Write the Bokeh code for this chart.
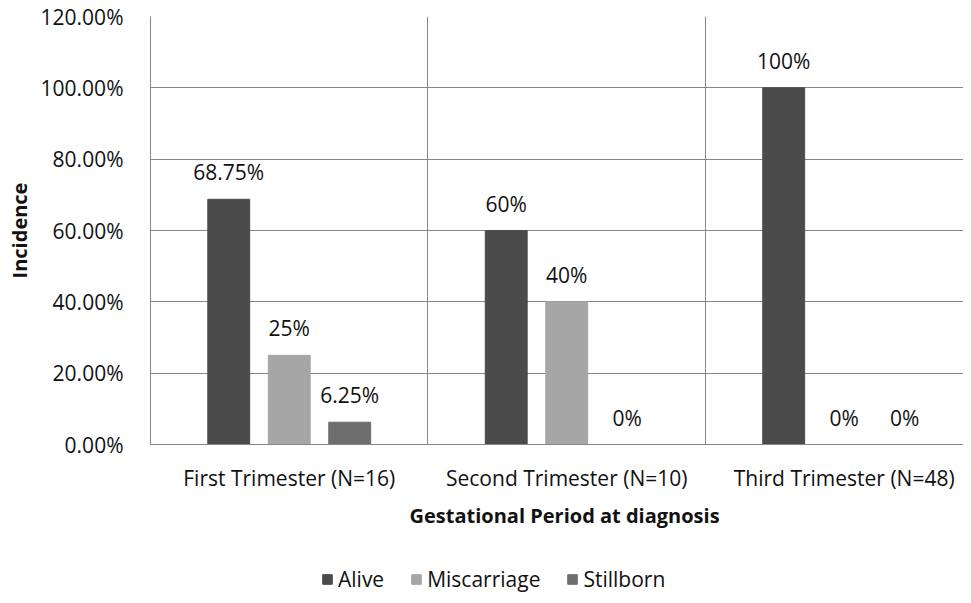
import numpy as np
from bokeh.plotting import figure
from bokeh.layouts import column
from bokeh.models import (Range1d, FixedTicker, PrintfTickFormatter, Legend,
                          LegendItem, Title, ColumnDataSource)
from bokeh.core.properties import value
from bokeh.embed import file_html
from bokeh.resources import INLINE

categories = ["First Trimester (N=16)", "Second Trimester (N=10)", "Third Trimester (N=48)"]
series_names = ["Alive", "Miscarriage", "Stillborn"]
alive = [68.75, 60, 100]
miscarriage = [25, 40, 0]
stillborn = [6.25, 0, 0]
alive_labels = ["68.75%", "60%", "100%"]
miscarriage_labels = ["25%", "40%", "0%"]
stillborn_labels = ["6.25%", "0%", "0%"]
y_ticks = [0, 20, 40, 60, 80, 100, 120]

colors = ["#4b4b4b", "#a6a6a6", "#6e6e6e"]
offsets = [-0.218, 0.0, 0.218]
bar_w = 0.151
FONT = "Open Sans"
TXT = "#111111"
W = 963

p = figure(width=W, height=560, output_backend="svg", toolbar_location=None,
           x_range=Range1d(-0.5, 2.43), y_range=Range1d(0, 120),
           min_border_left=150, min_border_right=0, min_border_top=16,
           min_border_bottom=116)
p.outline_line_color = None
p.background_fill_color = "white"
p.border_fill_color = "white"

idx = np.arange(len(categories))
series = [alive, miscarriage, stillborn]
for name, vals, labs, col, off in zip(series_names, series,
                                      [alive_labels, miscarriage_labels, stillborn_labels],
                                      colors, offsets):
    src = ColumnDataSource(dict(x=idx + off, top=vals, lab=labs))
    p.vbar(x="x", top="top", width=bar_w, bottom=0, source=src,
           fill_color=col, line_color=col)
    p.text(x="x", y="top", text="lab", source=src, y_offset=-27,
           text_align="center", text_baseline="middle",
           text_font=value(FONT), text_font_size="21px", text_color=TXT)

# axes
p.xaxis.ticker = FixedTicker(ticks=list(idx))
p.xaxis.major_label_overrides = {int(i): c for i, c in zip(idx, categories)}
p.xaxis.major_tick_line_color = None
p.xaxis.minor_tick_line_color = None
p.xaxis.axis_line_color = "#868686"
p.xaxis.major_label_text_font = FONT
p.xaxis.major_label_text_font_size = "21px"
p.xaxis.major_label_text_color = TXT
p.xaxis.major_label_standoff = 13

p.yaxis.ticker = FixedTicker(ticks=y_ticks)
p.yaxis.formatter = PrintfTickFormatter(format="%.2f%%")
p.yaxis.major_tick_line_color = None
p.yaxis.minor_tick_line_color = None
p.yaxis.axis_line_color = "#868686"
p.yaxis.major_label_text_font = FONT
p.yaxis.major_label_text_font_size = "21px"
p.yaxis.major_label_text_color = TXT
p.yaxis.major_label_standoff = 21
p.yaxis.axis_label = "Incidence"
p.yaxis.axis_label_text_font = FONT
p.yaxis.axis_label_text_font_style = "bold"
p.yaxis.axis_label_text_font_size = "20px"
p.yaxis.axis_label_text_color = TXT
p.yaxis.axis_label_standoff = 5

# grids
p.ygrid.ticker = FixedTicker(ticks=y_ticks)
p.ygrid.grid_line_color = "#868686"
p.xgrid.ticker = FixedTicker(ticks=[-0.5, 0.5, 1.5, 2.5])
p.xgrid.grid_line_color = "#868686"

# x axis title as a below-panel title, shifted to centre on the category span
xtitle = Title(text="Gestational Period at diagnosis", align="left", offset=259,
               text_font=FONT, text_font_style="bold", text_font_size="20px",
               text_color=TXT, standoff=10)
p.add_layout(xtitle, "below")

# legend strip underneath (its swatch renderers sit outside its visible range)
lg = figure(width=W, height=35, output_backend="svg", toolbar_location=None,
            x_axis_location=None, y_axis_location=None,
            x_range=Range1d(100, 101), y_range=Range1d(100, 101),
            min_border_left=0, min_border_right=0, min_border_top=0,
            min_border_bottom=0)
lg.outline_line_color = None
lg.grid.visible = False
items = []
for name, vals, col, off in zip(series_names, series, colors, offsets):
    r = lg.vbar(x=idx + off, top=vals, width=bar_w, fill_color=col, line_color=col)
    items.append(LegendItem(label=name, renderers=[r]))
legend = Legend(items=items, orientation="horizontal", location=(171, 2),
                glyph_width=12, glyph_height=12, label_standoff=5, spacing=26,
                label_text_font=FONT, label_text_font_size="21px",
                label_text_color=TXT, border_line_color=None,
                background_fill_alpha=0, padding=0, margin=0)
lg.add_layout(legend)

layout = column(p, lg, spacing=0)
open("out.html", "w").write(file_html(layout, INLINE))
